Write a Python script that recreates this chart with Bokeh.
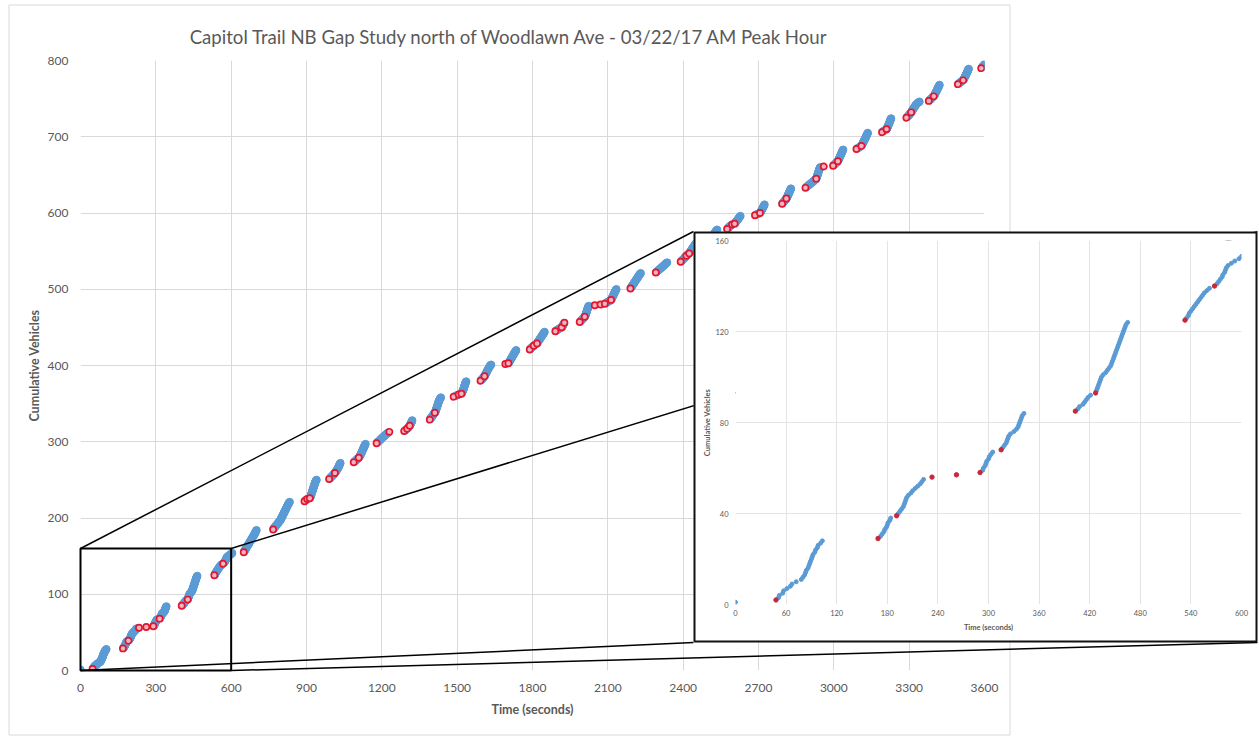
from bokeh.plotting import figure
from bokeh.models import Range1d, FixedTicker, Label, Column
from bokeh.embed import file_html
from bokeh.resources import INLINE

# ---------------- data ----------------
TITLE = "Capitol Trail NB Gap Study north of Woodlawn Ave - 03/22/17 AM Peak Hour"
X_LABEL = "Time (seconds)"
Y_LABEL = "Cumulative Vehicles"

main_x_ticks = list(range(0, 3601, 300))
main_y_ticks = list(range(0, 801, 100))
zoom_x = [0, 600]          # zoomed window (seconds)
zoom_y = [0, 160]          # zoomed window (vehicles)
inset_x_ticks = list(range(0, 601, 60))
inset_y_ticks = [0, 40, 80, 120, 160]

# arrival time (s) of each vehicle; cumulative count = position in list
arrival_times = [
    0, 48,
    51, 52, 56, 57, 61, 65, 67, 72, 78, 80, 82, 83, 84, 86, 87, 88, 89, 90, 91, 92, 94, 95, 97, 98, 101, 103,
    169, 172, 174, 176, 177, 179, 180, 181, 183, 184,
    191, 193, 195, 197, 199, 200, 201, 202, 203, 205, 208, 210, 213, 216, 219, 221, 223,
    233, 262, 290,
    293, 294, 296, 297, 298, 300, 301, 303, 305,
    315, 317, 319, 321, 322, 323, 324, 326, 330, 333, 335, 336, 337, 338, 339, 340, 342,
    403, 406, 408, 412, 414, 416, 418, 421,
    427, 428, 429, 430, 431, 432, 433, 434, 436, 439, 441, 443, 445, 446, 447, 448, 449, 450, 451, 452,
    453, 454, 455, 456, 457, 458, 459, 460, 461, 462, 463, 465,
    533, 535, 537, 538, 540, 542, 544, 546, 548, 550, 552, 554, 556, 559, 562,
    568, 571, 573, 575, 577, 578, 580, 581, 582, 584, 588, 592, 597, 600, 604,
    650, 652, 654, 655, 657, 659, 661, 662, 664, 666, 668, 670, 672, 673, 675, 677, 679, 681, 683, 684,
    686, 688, 690, 691, 693, 695, 696, 698, 699, 701,
    767, 769, 771, 774, 776, 779, 781, 784, 786, 788, 791, 793, 796, 797, 799, 800, 802, 803, 805, 806,
    808, 809, 811, 812, 814, 815, 817, 818, 820, 821, 823, 824, 826, 827, 829, 831, 833,
    892, 896, 899, 903, 913,
    915, 916, 917, 918, 919, 920, 921, 922, 923, 924, 925, 926, 927, 928, 929, 930, 931, 932, 933, 934,
    935, 936, 938, 940,
    990, 993, 996, 999, 1002, 1005, 1008, 1010,
    1013, 1015, 1017, 1019, 1021, 1023, 1025, 1026, 1028, 1029, 1030, 1032, 1033, 1035,
    1088, 1091, 1095, 1098, 1101, 1104,
    1108, 1110, 1112, 1114, 1115, 1117, 1118, 1120, 1121, 1122, 1124, 1125, 1126, 1128, 1129, 1130, 1132,
    1133, 1135,
    1179, 1182, 1185, 1189, 1192, 1195, 1198, 1201, 1204, 1208, 1211, 1214, 1218, 1222, 1226, 1230,
    1289, 1293, 1297, 1301, 1304, 1306, 1308, 1311, 1313, 1314, 1316, 1317, 1318, 1320, 1321,
    1391, 1393, 1395, 1398, 1400, 1402, 1404, 1406, 1408,
    1411, 1413, 1414, 1415, 1416, 1417, 1418, 1419, 1420, 1421, 1422, 1423, 1424, 1425, 1426, 1427, 1428,
    1430, 1431, 1433, 1435,
    1486, 1493, 1500, 1506, 1517,
    1519, 1520, 1521, 1523, 1524, 1525, 1526, 1527, 1528, 1529, 1530, 1531, 1532, 1533, 1534, 1536,
    1593, 1596, 1599, 1602, 1604, 1606,
    1609, 1611, 1612, 1614, 1615, 1617, 1618, 1620, 1621, 1623, 1625, 1626, 1628, 1630, 1632, 1635,
    1692, 1704,
    1706, 1708, 1710, 1712, 1713, 1715, 1717, 1719, 1720, 1722, 1724, 1726, 1727, 1729, 1731, 1733, 1735,
    1789, 1792, 1795, 1798, 1802, 1805, 1809, 1813,
    1818, 1820, 1822, 1824, 1826, 1828, 1830, 1832, 1834, 1836, 1838, 1840, 1842, 1844, 1846, 1848,
    1891, 1895, 1900, 1905, 1910, 1916, 1919, 1920, 1922, 1923, 1925, 1927,
    1988, 1991, 1994, 1997, 2000, 2003, 2005,
    2008, 2010, 2011, 2012, 2013, 2014, 2015, 2016, 2017, 2018, 2019, 2020, 2021, 2022, 2024,
    2048, 2071, 2088, 2093, 2098, 2103, 2108,
    2113, 2115, 2116, 2117, 2119, 2120, 2122, 2123, 2125, 2126, 2127, 2129, 2130, 2132, 2134,
    2190, 2192, 2194, 2196, 2198, 2200, 2202, 2204, 2206, 2208, 2210, 2212, 2214, 2216, 2218, 2220, 2222,
    2224, 2226, 2228, 2231,
    2291, 2295, 2298, 2302, 2305, 2309, 2312, 2315, 2319, 2322, 2326, 2329, 2332, 2336,
    2390, 2393, 2396, 2399, 2402, 2405, 2407, 2410, 2413, 2416, 2420, 2424,
    2426, 2428, 2430, 2432, 2434, 2436, 2438, 2440, 2442, 2444, 2446, 2448, 2450,
    2490, 2495, 2498, 2501, 2504, 2507, 2510, 2513, 2516, 2518, 2520, 2522, 2524, 2526, 2528, 2530, 2532, 2535,
    2575, 2578, 2581, 2584, 2587, 2591, 2595, 2605,
    2607, 2609, 2612, 2614, 2616, 2619, 2621, 2623, 2625, 2628,
    2686, 2692, 2699, 2706,
    2708, 2710, 2711, 2713, 2715, 2716, 2718, 2719, 2721, 2722, 2724,
    2794, 2796, 2799, 2801, 2804, 2806, 2809,
    2811, 2813, 2814, 2816, 2817, 2818, 2820, 2821, 2822, 2824, 2825, 2826, 2828, 2829,
    2887, 2890, 2894, 2898, 2902, 2905, 2909, 2913, 2917, 2920, 2923, 2927,
    2930, 2931, 2932, 2933, 2934, 2935, 2936, 2937, 2938, 2939, 2940, 2941, 2942, 2943, 2944, 2946,
    2960, 2997, 3000, 3004, 3007, 3010, 3013,
    3016, 3018, 3019, 3021, 3022, 3023, 3025, 3026, 3027, 3029, 3030, 3031, 3033, 3034, 3035, 3037,
    3090, 3095, 3100, 3105,
    3110, 3112, 3113, 3115, 3116, 3118, 3119, 3121, 3122, 3124, 3125, 3127, 3128, 3129, 3131, 3132, 3134, 3135,
    3192, 3196, 3200, 3205,
    3210, 3212, 3213, 3214, 3216, 3217, 3218, 3219, 3221, 3222, 3223, 3224, 3225, 3227, 3228,
    3289, 3292, 3295, 3298, 3301, 3303, 3306,
    3308, 3310, 3312, 3313, 3315, 3317, 3319, 3321, 3323, 3325, 3327, 3330, 3333, 3337, 3341,
    3378, 3381, 3385, 3388, 3391, 3394,
    3398, 3400, 3401, 3403, 3404, 3406, 3407, 3409, 3410, 3412, 3413, 3415, 3416, 3418, 3419, 3421,
    3494, 3498, 3502, 3506, 3510,
    3515, 3517, 3518, 3520, 3521, 3523, 3524, 3526, 3527, 3529, 3530, 3531, 3533, 3534, 3535, 3537,
    3587, 3590, 3593, 3595, 3598, 3600,
]

# vehicles arriving after a gap (shown in red)
red_times = [
    48, 169, 191, 233, 262, 290, 315, 403, 427, 533, 568, 650, 767, 892, 903, 913, 990, 1013,
    1088, 1108, 1179, 1230, 1289, 1301, 1311, 1391, 1411, 1486, 1506, 1517, 1593, 1609, 1692,
    1704, 1789, 1805, 1818, 1891, 1916, 1927, 1988, 2008, 2048, 2071, 2088, 2113, 2190, 2291,
    2390, 2413, 2424, 2490, 2575, 2595, 2605, 2686, 2706, 2794, 2811, 2887, 2930, 2960, 2997,
    3016, 3090, 3110, 3192, 3210, 3289, 3308, 3378, 3398, 3494, 3515, 3587,
]

# ---------------- derived series ----------------
vehicle_no = list(range(1, len(arrival_times) + 1))
red_set = set(red_times)
blue_x = [t for t in arrival_times if t not in red_set]
blue_y = [n for t, n in zip(arrival_times, vehicle_no) if t not in red_set]
red_x = [t for t in arrival_times if t in red_set]
red_y = [n for t, n in zip(arrival_times, vehicle_no) if t in red_set]

# ---------------- layout (pixels) ----------------
WIN_W, WIN_H = 1259, 736
CHART = (8, 4, 1010, 735)          # outer chart area
FRAME = (80, 60, 984, 670)         # main plot area
INSET = (693, 231, 1257, 642)      # inset outer box
INSET_FRAME = (735, 240, 1241, 604)

FONT = "Lato"
GRAY = "#595959"
BLUE = "#5B9BD5"


def style_axes(fig, tick_size, label_size):
    for ax in (fig.xaxis, fig.yaxis):
        ax.axis_line_color = None
        ax.major_tick_line_color = None
        ax.minor_tick_line_color = None
        ax.major_tick_out = 0
        ax.major_tick_in = 0
        ax.minor_tick_out = 0
        ax.minor_tick_in = 0
        ax.major_label_text_font = FONT
        ax.major_label_text_font_size = tick_size
        ax.major_label_text_color = GRAY
        ax.axis_label_text_font = FONT
        ax.axis_label_text_font_size = label_size
        ax.axis_label_text_font_style = "bold"
        ax.axis_label_text_color = GRAY


def overlay_figure():
    f = figure(width=WIN_W, height=WIN_H, x_range=Range1d(0, WIN_W), y_range=Range1d(WIN_H, 0),
               output_backend="svg", toolbar_location=None, x_axis_type=None, y_axis_type=None,
               frame_align=False, min_border=0, min_border_left=0, min_border_right=0,
               min_border_top=0, min_border_bottom=0,
               styles={"position": "absolute", "left": "0px", "top": "0px"})
    f.background_fill_alpha = 0
    f.border_fill_alpha = 0
    f.outline_line_color = None
    f.grid.visible = False
    return f


# ---------------- main chart ----------------
main_w = CHART[2] - CHART[0]
main_h = CHART[3] - CHART[1]
p = figure(width=main_w, height=main_h,
           x_range=Range1d(0, 3600), y_range=Range1d(0, 800),
           output_backend="svg", toolbar_location=None, frame_align=False,
           min_border_left=FRAME[0] - CHART[0], min_border_right=CHART[2] - FRAME[2],
           min_border_top=FRAME[1] - CHART[1], min_border_bottom=CHART[3] - FRAME[3],
           background_fill_color="white", border_fill_color="white",
           styles={"position": "absolute", "left": f"{CHART[0]}px", "top": f"{CHART[1]}px"})
p.outline_line_color = None
p.xaxis.ticker = FixedTicker(ticks=main_x_ticks)
p.yaxis.ticker = FixedTicker(ticks=main_y_ticks)
style_axes(p, "12px", "12.5px")
p.xaxis.axis_label = X_LABEL
p.yaxis.axis_label = Y_LABEL
p.xaxis.major_label_standoff = 13
p.yaxis.major_label_standoff = 12
p.xaxis.axis_label_standoff = 7
p.yaxis.axis_label_standoff = 3
p.grid.grid_line_color = "#d9d9d9"
p.grid.grid_line_width = 1

p.scatter(blue_x, blue_y, size=7.5, fill_color=BLUE, line_color=BLUE)
p.scatter(red_x, red_y, size=6.2, fill_color="#eeb4bf", line_color="#e3162f", line_width=1.7)

# ---------------- overlay below inset (chart border, title, zoom box, connectors) ----------------
ov = overlay_figure()
ov.quad(left=[CHART[0] + 0.5], right=[CHART[2] - 0.5], top=[CHART[1] + 0.5], bottom=[CHART[3] - 0.5],
        fill_color=None, line_color="#d9d9d9", line_width=1)


def px(x):
    return FRAME[0] + (x - 0) / 3600 * (FRAME[2] - FRAME[0])


def py(y):
    return FRAME[3] - (y - 0) / 800 * (FRAME[3] - FRAME[1])


bx0, bx1 = px(zoom_x[0]), px(zoom_x[1])
by0, by1 = py(zoom_y[0]), py(zoom_y[1])
ov.segment(x0=[bx0, bx1, bx0, bx1], y0=[by1, by1, by0, by0],
           x1=[INSET[0], INSET[2], INSET[0], INSET[2]], y1=[INSET[1], INSET[1], INSET[3], INSET[3]],
           line_color="black", line_width=1.5)
ov.quad(left=[bx0], right=[bx1], top=[by1], bottom=[by0], fill_color=None,
        line_color="black", line_width=2)
ov.add_layout(Label(x=(CHART[0] + CHART[2]) / 2, y=36, text=TITLE, text_align="center",
                    text_baseline="alphabetic", text_font=FONT, text_font_size="18.6px",
                    text_color=GRAY))

# ---------------- inset ----------------
ins = figure(width=INSET[2] - INSET[0], height=INSET[3] - INSET[1],
             x_range=Range1d(zoom_x[0], zoom_x[1]), y_range=Range1d(zoom_y[0], zoom_y[1]),
             output_backend="svg", toolbar_location=None, frame_align=False,
             min_border_left=INSET_FRAME[0] - INSET[0],
             min_border_right=INSET[2] - INSET_FRAME[2],
             min_border_top=INSET_FRAME[1] - INSET[1],
             min_border_bottom=INSET[3] - INSET_FRAME[3],
             background_fill_color="white", border_fill_color="white",
             styles={"position": "absolute", "left": f"{INSET[0]}px", "top": f"{INSET[1]}px"})
ins.outline_line_color = None
ins.xaxis.ticker = FixedTicker(ticks=inset_x_ticks)
ins.yaxis.ticker = FixedTicker(ticks=inset_y_ticks)
style_axes(ins, "7.5px", "7.5px")
ins.xaxis.axis_label = X_LABEL
ins.yaxis.axis_label = Y_LABEL
ins.xaxis.major_label_standoff = 5
ins.yaxis.major_label_standoff = 7
ins.xaxis.axis_label_standoff = 4
ins.yaxis.axis_label_standoff = 0
ins.grid.grid_line_color = "#e4e4e4"

ins.scatter(blue_x, blue_y, size=4, fill_color=BLUE, line_color=BLUE)
ins.scatter(red_x, red_y, size=4.4, fill_color="#c8283c", line_color="#c8283c")

# ---------------- overlay above inset (inset border) ----------------
ov2 = overlay_figure()
ov2.quad(left=[INSET[0] + 1], right=[INSET[2] - 1], top=[INSET[1] + 1], bottom=[INSET[3] - 1],
         fill_color=None, line_color="#111111", line_width=2)

root = Column(children=[p, ov, ins, ov2], width=WIN_W, height=WIN_H,
              styles={"position": "relative"})

open("out.html", "w").write(file_html(root, INLINE))
